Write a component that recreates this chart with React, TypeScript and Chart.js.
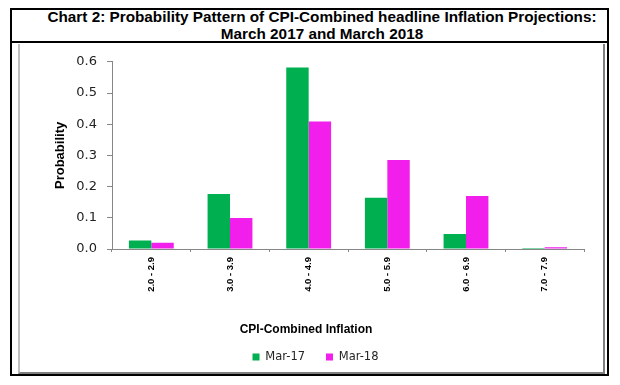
import React, { useEffect, useRef } from 'react';
import { Chart, registerables } from 'chart.js';

Chart.register(...registerables);

const categories = ['2.0 - 2.9', '3.0 - 3.9', '4.0 - 4.9', '5.0 - 5.9', '6.0 - 6.9', '7.0 - 7.9'];
const mar17 = [0.027, 0.176, 0.582, 0.164, 0.048, 0.003];
const mar18 = [0.02, 0.099, 0.409, 0.285, 0.17, 0.006];
const seriesNames = ['Mar-17', 'Mar-18'];
const seriesColors = ['#00B050', '#F21EEC'];
const yMin = 0;
const yMax = 0.6;
const yStep = 0.1;
const xTitle = 'CPI-Combined Inflation';
const yTitle = 'Probability';

const legendShift = {
  id: 'legendShift',
  afterLayout(chart: any) {
    const l = chart.legend;
    if (l) {
      l.left += 9.5;
      l.right += 9.5;
    }
  },
};

export default function App() {
  const ref = useRef<HTMLCanvasElement | null>(null);

  useEffect(() => {
    if (!ref.current) return;
    const chart = new Chart(ref.current, {
      type: 'bar',
      data: {
        labels: categories,
        datasets: [
          { label: seriesNames[0], data: mar17, backgroundColor: seriesColors[0], borderWidth: 0, categoryPercentage: 0.57, barPercentage: 1.0 },
          { label: seriesNames[1], data: mar18, backgroundColor: seriesColors[1], borderWidth: 0, categoryPercentage: 0.57, barPercentage: 1.0 },
        ],
      },
      options: {
        responsive: false,
        maintainAspectRatio: false,
        animation: false,
        layout: { padding: { left: 8, right: 19, top: 17, bottom: 1.25 } },
        plugins: {
          legend: {
            position: 'bottom',
            labels: {
              boxWidth: 7,
              boxHeight: 7,
              padding: 10,
              font: { family: 'DejaVu Sans', size: 11.5 },
              color: '#262626',
              generateLabels: (chart: any) => {
                const items = Chart.defaults.plugins.legend.labels.generateLabels(chart);
                return items.map((it: any, i: number) => (i < items.length - 1 ? { ...it, text: it.text + '   ' } : it));
              },
            },
          },
          title: {
            display: true,
            position: 'bottom',
            text: xTitle,
            weight: 500,
            padding: { top: 4, bottom: 4.05 },
            font: { family: 'Liberation Sans', size: 12, weight: 'bold' },
            color: '#000',
          },
          tooltip: { enabled: false },
        },
        scales: {
          x: {
            grid: { drawOnChartArea: false, tickLength: 3, color: '#868686' },
            border: { color: '#868686' },
            ticks: {
              autoSkip: false,
              minRotation: 90,
              maxRotation: 90,
              padding: 5,
              font: { family: 'Liberation Sans', size: 9.5, weight: 'bold' },
              color: '#000',
            },
            afterFit: (s: any) => {
              s.height = 69.8;
            },
          },
          y: {
            min: yMin,
            max: yMax,
            ticks: {
              stepSize: yStep,
              callback: (v: any) => Number(v).toFixed(1),
              padding: 10,
              font: { family: 'DejaVu Sans', size: 13 },
              color: '#222',
            },
            grid: { drawOnChartArea: false, tickLength: 5, color: '#868686' },
            border: { color: '#868686' },
            title: {
              display: true,
              text: yTitle,
              font: { family: 'Liberation Sans', size: 13, weight: 'bold' },
              color: '#000',
              padding: { top: 25, bottom: 0 },
            },
            afterFit: (s: any) => {
              s.width = 84;
            },
          },
        },
      } as any,
      plugins: [legendShift],
    });
    return () => chart.destroy();
  }, []);

  return (
    <div style={{ position: 'absolute', left: 0, top: 0, width: 620, height: 385, background: '#fff' }}>
      <div
        style={{
          position: 'absolute',
          left: 10,
          top: 8,
          width: 599,
          height: 368,
          border: '2px solid #000',
          boxSizing: 'border-box',
        }}
      />
      <div
        style={{
          position: 'absolute',
          left: 10,
          top: 41,
          width: 599,
          height: 2,
          background: '#000',
        }}
      />
      <div
        style={{
          position: 'absolute',
          left: 11,
          top: 9,
          width: 597,
          paddingLeft: 25,
          boxSizing: 'border-box',
          textAlign: 'center',
          fontFamily: '"Liberation Sans", Arial, sans-serif',
          fontWeight: 'bold',
          fontSize: 15.3,
          lineHeight: '16.5px',
          color: '#000',
          whiteSpace: 'nowrap',
        }}
      >
        Chart 2: Probability Pattern of CPI-Combined headline Inflation Projections:
        <br />
        March 2017 and March 2018
      </div>
      <div
        style={{
          position: 'absolute',
          left: 18,
          top: 44,
          width: 587,
          height: 330,
          borderLeft: '2px solid #c0c0c0',
          borderRight: '2px solid #7f7f7f',
          borderBottom: '2px solid #7f7f7f',
          boxSizing: 'border-box',
        }}
      >
        <canvas ref={ref} width={583} height={330} style={{ display: 'block' }} />
      </div>
    </div>
  );
}
